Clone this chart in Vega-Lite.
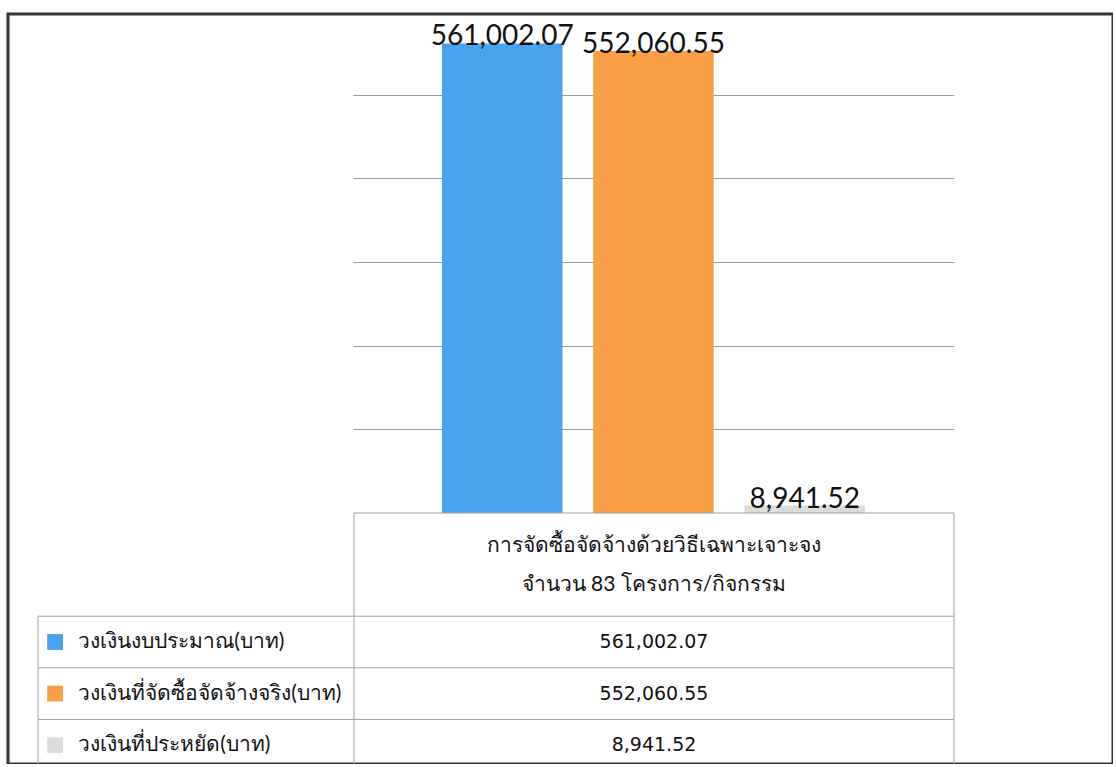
{
  "$schema": "https://vega.github.io/schema/vega-lite/v6.json",
  "width": 1105,
  "height": 750,
  "autosize": {"type": "none"},
  "padding": {"left": 8, "top": 14, "right": 0, "bottom": 0},
  "background": "white",
  "config": {
    "view": {"stroke": "#333333", "strokeWidth": 3},
    "font": "Lato",
    "text": {"font": "Lato", "color": "#111111"}
  },
  "datasets": {
    "budget": [
      {"series": "วงเงินงบประมาณ(บาท)", "value": 561002.07},
      {"series": "วงเงินที่จัดซื้อจัดจ้างจริง(บาท)", "value": 552060.55},
      {"series": "วงเงินที่ประหยัด(บาท)", "value": 8941.52}
    ],
    "header": [
      {"line": "การจัดซื้อจัดจ้างด้วยวิธีเฉพาะเจาะจง"},
      {"line": "จำนวน 83 โครงการ/กิจกรรม"}
    ]
  },
  "resolve": {"scale": {"x": "independent", "y": "independent"}, "axis": {"x": "independent", "y": "independent"}},
  "layer": [
    {
      "data": {"name": "budget"},
      "encoding": {
        "x": {
          "field": "series",
          "type": "nominal",
          "sort": null,
          "axis": null,
          "scale": {"type": "band", "range": [345, 946], "paddingInner": 0.203, "paddingOuter": 0.588}
        },
        "y": {
          "field": "value",
          "type": "quantitative",
          "scale": {"domain": [0, 500000], "range": [499, 80.5], "nice": false, "zero": true},
          "axis": {"grid": true, "labels": false, "ticks": false, "domain": false, "title": null,
                   "values": [100000, 200000, 300000, 400000, 500000],
                   "gridColor": "#9a9a9a", "gridWidth": 1}
        }
      },
      "layer": [
        {
          "mark": {"type": "bar"},
          "encoding": {
            "color": {
              "field": "series",
              "type": "nominal",
              "legend": null,
              "scale": {
                "domain": ["วงเงินงบประมาณ(บาท)", "วงเงินที่จัดซื้อจัดจ้างจริง(บาท)", "วงเงินที่ประหยัด(บาท)"],
                "range": ["#4aa2ee", "#f9a047", "#dcdcdc"]
              }
            }
          }
        },
        {
          "mark": {"type": "text", "baseline": "alphabetic", "dy": 2, "fontSize": 28, "font": "Lato"},
          "encoding": {
            "text": {"field": "value", "type": "quantitative", "format": ",.2f"}
          }
        }
      ]
    },
    {
      "data": {"name": "budget"},
      "encoding": {
        "y": {
          "field": "series",
          "type": "nominal",
          "axis": null,
          "scale": {
            "type": "band",
            "domain": ["การจัดซื้อจัดจ้างด้วยวิธีเฉพาะเจาะจง", "จำนวน 83 โครงการ/กิจกรรม", "วงเงินงบประมาณ(บาท)", "วงเงินที่จัดซื้อจัดจ้างจริง(บาท)", "วงเงินที่ประหยัด(บาท)"],
            "range": [499, 757],
            "paddingInner": 0,
            "paddingOuter": 0
          }
        }
      },
      "layer": [
        {
          "mark": {"type": "rule", "color": "#a0a0a0", "strokeWidth": 1},
          "encoding": {
            "y": {"field": "series", "type": "nominal", "bandPosition": 0},
            "x": {"datum": "label", "type": "nominal", "bandPosition": 0, "axis": null,
                  "scale": {"type": "band", "domain": ["label"], "range": [30, 346], "paddingInner": 0, "paddingOuter": 0}},
            "x2": {"datum": "label", "bandPosition": 1}
          }
        },
        {
          "data": {"values": [{}]},
          "mark": {"type": "rule", "color": "#a0a0a0", "strokeWidth": 1},
          "encoding": {
            "x": {"datum": "label", "type": "nominal", "bandPosition": 0},
            "y": {"datum": "วงเงินงบประมาณ(บาท)", "type": "nominal", "bandPosition": 0},
            "y2": {"datum": "วงเงินที่ประหยัด(บาท)", "bandPosition": 1}
          }
        },
        {
          "mark": {"type": "square", "size": 250, "opacity": 1, "filled": true},
          "encoding": {
            "x": {"datum": "label", "type": "nominal", "bandPosition": 0.054},
            "y": {"field": "series", "type": "nominal"},
            "color": {"field": "series", "type": "nominal", "legend": null}
          }
        },
        {
          "mark": {"type": "text", "align": "left", "baseline": "middle", "fontSize": 21},
          "encoding": {
            "x": {"datum": "label", "type": "nominal", "bandPosition": 0.127},
            "y": {"field": "series", "type": "nominal"},
            "text": {"field": "series", "type": "nominal"}
          }
        }
      ]
    },
    {
      "data": {"name": "budget"},
      "encoding": {
        "y": {
          "field": "series",
          "type": "nominal",
          "axis": null,
          "scale": {
            "type": "band",
            "domain": ["การจัดซื้อจัดจ้างด้วยวิธีเฉพาะเจาะจง", "จำนวน 83 โครงการ/กิจกรรม", "วงเงินงบประมาณ(บาท)", "วงเงินที่จัดซื้อจัดจ้างจริง(บาท)", "วงเงินที่ประหยัด(บาท)"],
            "range": [499, 757],
            "paddingInner": 0,
            "paddingOuter": 0
          }
        }
      },
      "layer": [
        {
          "mark": {"type": "rule", "color": "#a0a0a0", "strokeWidth": 1},
          "encoding": {
            "y": {"field": "series", "type": "nominal", "bandPosition": 0},
            "x": {"datum": "value", "type": "nominal", "bandPosition": 0, "axis": null,
                  "scale": {"type": "band", "domain": ["value"], "range": [346, 946], "paddingInner": 0, "paddingOuter": 0}},
            "x2": {"datum": "value", "bandPosition": 1}
          }
        },
        {
          "data": {"values": [{}]},
          "mark": {"type": "rule", "color": "#a0a0a0", "strokeWidth": 1},
          "encoding": {
            "y": {"datum": "การจัดซื้อจัดจ้างด้วยวิธีเฉพาะเจาะจง", "type": "nominal", "bandPosition": 0},
            "x": {"datum": "value", "type": "nominal", "bandPosition": 0},
            "x2": {"datum": "value", "bandPosition": 1}
          }
        },
        {
          "data": {"values": [{}]},
          "mark": {"type": "rule", "color": "#a0a0a0", "strokeWidth": 1},
          "encoding": {
            "x": {"datum": "value", "type": "nominal", "bandPosition": 0},
            "y": {"datum": "การจัดซื้อจัดจ้างด้วยวิธีเฉพาะเจาะจง", "type": "nominal", "bandPosition": 0},
            "y2": {"datum": "วงเงินที่ประหยัด(บาท)", "bandPosition": 1}
          }
        },
        {
          "data": {"values": [{}]},
          "mark": {"type": "rule", "color": "#a0a0a0", "strokeWidth": 1},
          "encoding": {
            "x": {"datum": "value", "type": "nominal", "bandPosition": 1},
            "y": {"datum": "การจัดซื้อจัดจ้างด้วยวิธีเฉพาะเจาะจง", "type": "nominal", "bandPosition": 0},
            "y2": {"datum": "วงเงินที่ประหยัด(บาท)", "bandPosition": 1}
          }
        },
        {
          "data": {"name": "header"},
          "transform": [{"filter": "datum.line === 'การจัดซื้อจัดจ้างด้วยวิธีเฉพาะเจาะจง'"}],
          "mark": {"type": "text", "align": "center", "baseline": "middle", "fontSize": 21},
          "encoding": {
            "x": {"datum": "value", "type": "nominal"},
            "y": {"field": "line", "type": "nominal", "bandPosition": 0.63},
            "text": {"field": "line", "type": "nominal"}
          }
        },
        {
          "data": {"name": "header"},
          "transform": [{"filter": "datum.line !== 'การจัดซื้อจัดจ้างด้วยวิธีเฉพาะเจาะจง'"}],
          "mark": {"type": "text", "align": "center", "baseline": "middle", "fontSize": 21},
          "encoding": {
            "x": {"datum": "value", "type": "nominal"},
            "y": {"field": "line", "type": "nominal", "bandPosition": 0.4},
            "text": {"field": "line", "type": "nominal"}
          }
        },
        {
          "mark": {"type": "text", "align": "center", "baseline": "middle", "fontSize": 19, "font": "DejaVu Sans"},
          "encoding": {
            "x": {"datum": "value", "type": "nominal"},
            "y": {"field": "series", "type": "nominal"},
            "text": {"field": "value", "type": "quantitative", "format": ",.2f"}
          }
        }
      ]
    }
  ]
}
